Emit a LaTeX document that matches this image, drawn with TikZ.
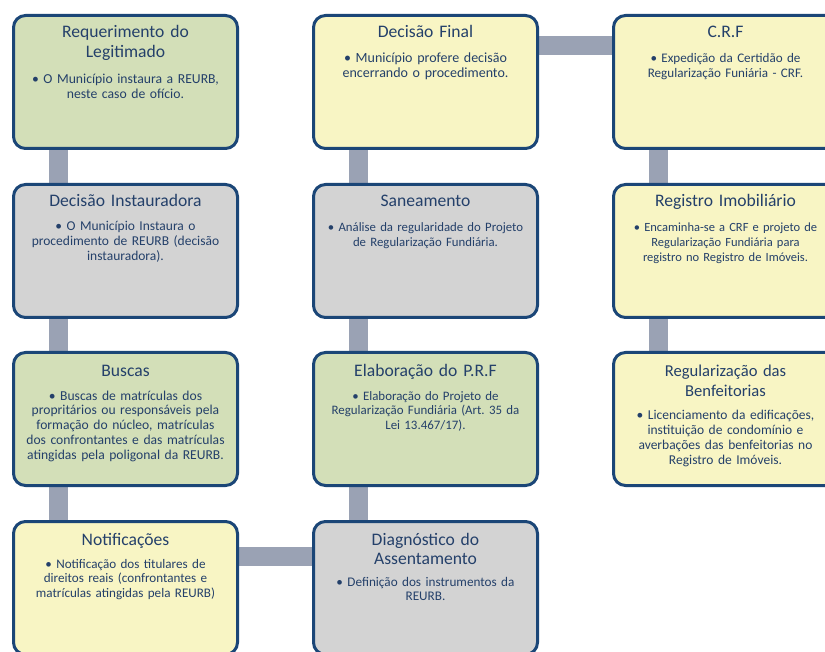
\documentclass[tikz,border=0pt]{standalone}
\usepackage{fontspec}
\setmainfont{Carlito}
\usetikzlibrary{backgrounds}
\definecolor{grn}{HTML}{D3DFB8}
\definecolor{gry}{HTML}{D3D3D3}
\definecolor{ylw}{HTML}{F8F5C4}
\definecolor{bord}{HTML}{1B4677}
\definecolor{txt}{HTML}{24406A}
\definecolor{barc}{HTML}{9AA2B4}
\tikzset{
 box/.style={draw=bord, line width=3pt, rounded corners=12pt, minimum width=224pt, minimum height=133pt, inner sep=0pt},
 ttl/.style={text=txt, font=\fontsize{#1}{19.5}\selectfont, align=center, text width=226pt, inner sep=0pt, anchor=base},
 ttl/.default=17.6,
 bdy/.style={text=txt, font=\fontsize{#1}{14.9}\selectfont, align=center, text width=226pt, inner sep=0pt, anchor=base},
 bdy/.default=13.5,
 bar/.style={draw=barc, line width=19pt},
}
\begin{document}
\begin{tikzpicture}[x=1pt,y=-1pt]
\useasboundingbox (0,0) rectangle (825,652);
\clip (0,0) rectangle (825,652);
% boxes
\node[box, fill=grn] (req)  at (125.5,82)  {};
\node[box, fill=gry] (dins) at (125.5,251) {};
\node[box, fill=grn] (bus)  at (125.5,419) {};
\node[box, fill=ylw] (ntf)  at (125.5,588) {};
\node[box, fill=gry] (diag) at (425.5,588) {};
\node[box, fill=grn] (elab) at (425.5,419) {};
\node[box, fill=gry] (san)  at (425.5,251) {};
\node[box, fill=ylw] (fin)  at (425.5,82)  {};
\node[box, fill=ylw] (crf)  at (725.5,82)  {};
\node[box, fill=ylw] (reg)  at (725.5,251) {};
\node[box, fill=ylw] (benf) at (725.5,419) {};
% connectors
\begin{scope}[on background layer]
\fill[white] (0,0) rectangle (825,652);
\draw[bar] ([xshift=-67.5pt]req.south)  -- ([xshift=-67.5pt]dins.north);
\draw[bar] ([xshift=-67.5pt]dins.south) -- ([xshift=-67.5pt]bus.north);
\draw[bar] ([xshift=-67.5pt]bus.south)  -- ([xshift=-67.5pt]ntf.north);
\draw[bar] ([yshift=-36pt]ntf.north east) -- ([yshift=-36pt]diag.north west);
\draw[bar] ([xshift=-67.5pt]diag.north) -- ([xshift=-67.5pt]elab.south);
\draw[bar] ([xshift=-67.5pt]elab.north) -- ([xshift=-67.5pt]san.south);
\draw[bar] ([xshift=-67.5pt]san.north)  -- ([xshift=-67.5pt]fin.south);
\draw[bar] ([yshift=-32pt]fin.north east) -- ([yshift=-32pt]crf.north west);
\draw[bar] ([xshift=-67.5pt]crf.south)  -- ([xshift=-67.5pt]reg.north);
\draw[bar] ([xshift=-67.5pt]reg.south)  -- ([xshift=-67.5pt]benf.north);
\end{scope}
% texts
\node[ttl] (req-t) at ([yshift=-24pt]req.north) {Requerimento do\\Legitimado};
\node[bdy=13.7] (req-b) at ([yshift=-70pt]req.north) {• O Município instaura a REURB,\\neste caso de ofício.};
\node[ttl] (dins-t) at ([yshift=-24pt]dins.north) {Decisão Instauradora};
\node[bdy] (dins-b) at ([yshift=-48pt]dins.north) {• O Município Instaura o\\procedimento de REURB (decisão\\instauradora).};
\node[ttl] (bus-t) at ([yshift=-26pt]bus.north) {Buscas};
\node[bdy=13.6] (bus-b) at ([yshift=-49pt]bus.north) {• Buscas de matrículas dos\\propritários ou responsáveis pela\\formação do núcleo, matrículas\\dos confrontantes e das matrículas\\atingidas pela poligonal da REURB.};
\node[ttl] (ntf-t) at ([yshift=-25pt]ntf.north) {Notificações};
\node[bdy=13.1] (ntf-b) at ([yshift=-48pt]ntf.north) {• Notificação dos titulares de\\direitos reais (confrontantes e\\matrículas atingidas pela REURB)};
\node[ttl] (diag-t) at ([yshift=-25pt]diag.north) {Diagnóstico do\\Assentamento};
\node[bdy=13.2] (diag-b) at ([yshift=-66pt]diag.north) {• Definição dos instrumentos da\\REURB.};
\node[ttl] (elab-t) at ([yshift=-26pt]elab.north) {Elaboração do P.R.F};
\node[bdy=12.9] (elab-b) at ([yshift=-49pt]elab.north) {• Elaboração do Projeto de\\Regularização Fundiária (Art.\ 35 da\\Lei 13.467/17).};
\node[ttl] (san-t) at ([yshift=-24pt]san.north) {Saneamento};
\node[bdy=12.8] (san-b) at ([yshift=-49pt]san.north) {• Análise da regularidade do Projeto\\de Regularização Fundiária.};
\node[ttl] (fin-t) at ([yshift=-24pt]fin.north) {Decisão Final};
\node[bdy=14.0] (fin-b) at ([yshift=-49pt]fin.north) {• Município profere decisão\\encerrando o procedimento.};
\node[ttl] (crf-t) at ([yshift=-24pt]crf.north) {C.R.F};
\node[bdy=13.1] (crf-b) at ([yshift=-49pt]crf.north) {• Expedição da Certidão de\\Regularização Funiária - CRF.};
\node[ttl] (reg-t) at ([yshift=-24pt]reg.north) {Registro Imobiliário};
\node[bdy=12.5] (reg-b) at ([yshift=-49pt]reg.north) {• Encaminha-se a CRF e projeto de\\Regularização Fundiária para\\registro no Registro de Imóveis.};
\node[ttl=16.6] (benf-t) at ([yshift=-26pt]benf.north) {Regularização das\\Benfeitorias};
\node[bdy] (benf-b) at ([yshift=-69pt]benf.north) {• Licenciamento da edificações,\\instituição de condomínio e\\averbações das benfeitorias no\\Registro de Imóveis.};
\end{tikzpicture}
\end{document}
